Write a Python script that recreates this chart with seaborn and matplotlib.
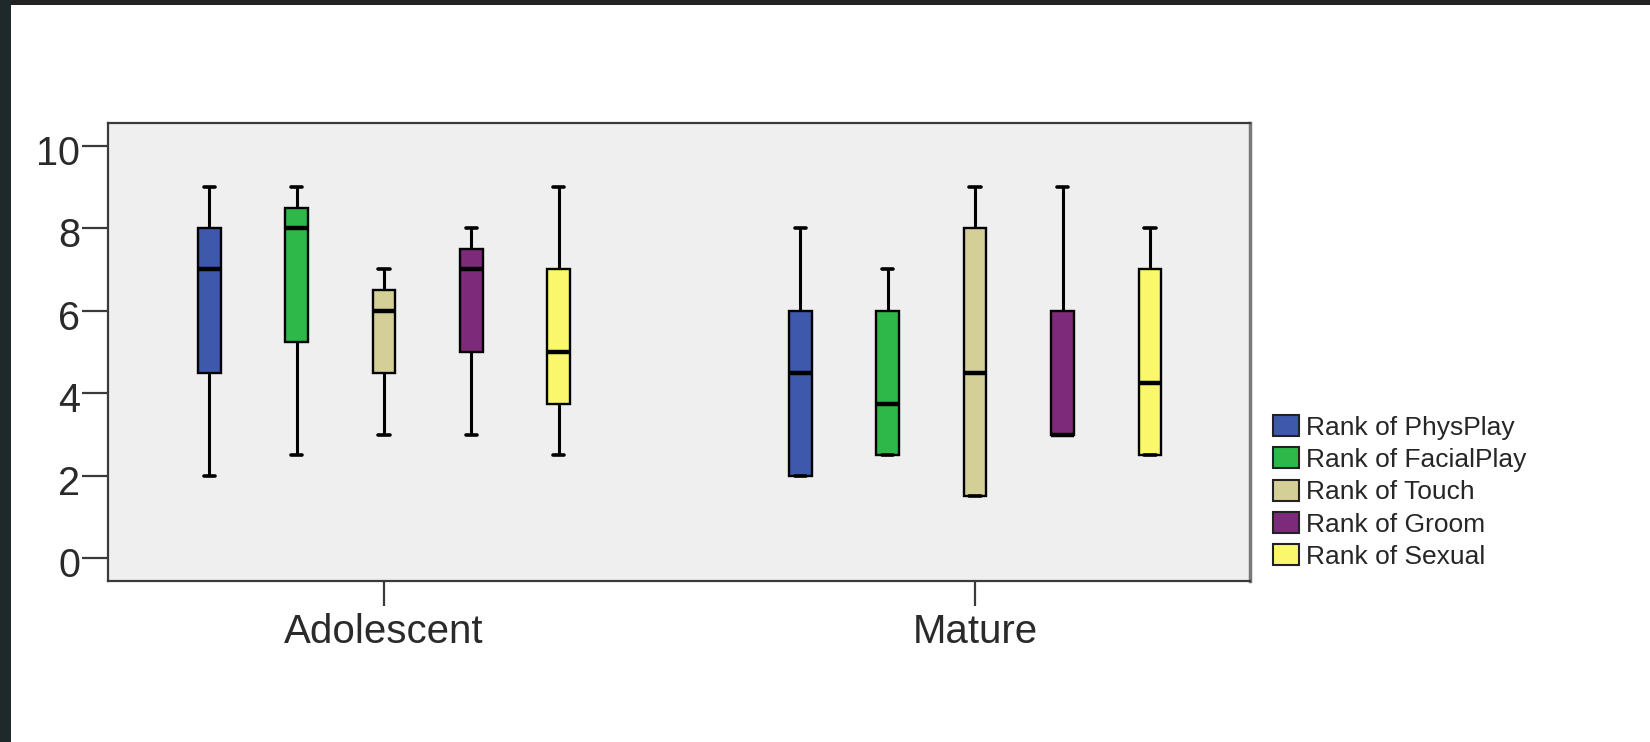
import numpy as np
import pandas as pd
import matplotlib
matplotlib.use("Agg")
import matplotlib.pyplot as plt
from matplotlib.patches import Patch, Rectangle
from matplotlib.transforms import ScaledTranslation
import seaborn as sns

# ---------------- data (five-number summaries) ----------------
groups = ["Adolescent", "Mature"]
measures = ["Rank of PhysPlay", "Rank of FacialPlay", "Rank of Touch",
            "Rank of Groom", "Rank of Sexual"]
colors = ["#3e58ac", "#2fb84a", "#d4cf96", "#7e2a7a", "#fbf76c"]

adol_min = [2.0, 2.5, 3.0, 3.0, 2.5]
adol_q1 = [4.5, 5.25, 4.5, 5.0, 3.75]
adol_med = [7.0, 8.0, 6.0, 7.0, 5.0]
adol_q3 = [8.0, 8.5, 6.5, 7.5, 7.0]
adol_max = [9.0, 9.0, 7.0, 8.0, 9.0]

mat_min = [2.0, 2.5, 1.5, 3.0, 2.5]
mat_q1 = [2.0, 2.5, 1.5, 3.0, 2.5]
mat_med = [4.5, 3.75, 4.5, 3.0, 4.25]
mat_q3 = [6.0, 6.0, 8.0, 6.0, 7.0]
mat_max = [8.0, 7.0, 9.0, 9.0, 8.0]

yticks = [0, 2, 4, 6, 8, 10]

# long-form table: each box is given by its five-number summary
rows = []
for g, arrs in zip(groups, [(adol_min, adol_q1, adol_med, adol_q3, adol_max),
                            (mat_min, mat_q1, mat_med, mat_q3, mat_max)]):
    for i, m in enumerate(measures):
        for a in arrs:
            rows.append({"group": g, "measure": m, "value": a[i]})
df = pd.DataFrame(rows)

# ---------------- figure ----------------
sns.set_style("white")
plt.rcParams["font.family"] = ["Liberation Sans", "DejaVu Sans"]

W, H, DPI = 1650, 742, 100
fig = plt.figure(figsize=(W / DPI, H / DPI), dpi=DPI, facecolor="white")
ax = fig.add_axes([108 / W, 1 - 581 / H, (1250 - 108) / W, (581 - 123) / H])
ax.set_facecolor("#efefef")

sns.boxplot(data=df, x="group", y="value", hue="measure",
            order=groups, hue_order=measures, palette=colors,
            width=0.739, gap=0.74, whis=np.inf, saturation=1,
            linecolor="black", linewidth=1.7, legend=False,
            medianprops=dict(linewidth=3.2, color="black"),
            whiskerprops=dict(linewidth=2.2, color="black"),
            capprops=dict(linewidth=2.6, color="black"),
            ax=ax)

ax.set_xlim(-0.467, 1.465)
ax.set_ylim(-0.55, 10.55)
ax.set_yticks(yticks)
ax.set_yticklabels([str(t) for t in yticks])
ax.set_xlabel("")
ax.set_ylabel("")

for s in ax.spines.values():
    s.set_visible(True)
    s.set_color("#3a3a3a")
    s.set_linewidth(1.6)
ax.spines["right"].set_color("#7a7a7a")
ax.spines["right"].set_linewidth(2.5)

ax.tick_params(axis="y", direction="out", length=19, width=1.6, color="#3a3a3a",
               pad=1, labelsize=28.5, labelcolor="#2a2a2a", left=True)
ax.tick_params(axis="x", direction="out", length=18, width=1.6, color="#3a3a3a",
               pad=5, labelsize=29, labelcolor="#2a2a2a", bottom=True)

shift = ScaledTranslation(0, -3 / 72, fig.dpi_scale_trans)
for lab in ax.get_yticklabels():
    lab.set_transform(lab.get_transform() + shift)

handles = [Patch(facecolor=c, edgecolor="#222222", linewidth=1.5) for c in colors]
fig.legend(handles, measures, loc="upper left",
           bbox_to_anchor=(1273 / W, 1 - 415 / H), frameon=False,
           fontsize=19, handlelength=1.0, handleheight=0.85,
           handletextpad=0.25, labelspacing=0.29, borderaxespad=0, borderpad=0)

# dark screenshot frame (top and left edges)
fig.patches.append(Rectangle((0, 1 - 5 / H), 1, 5 / H, transform=fig.transFigure,
                             facecolor="#222222", edgecolor="none", zorder=10))
fig.patches.append(Rectangle((0, 0), 11 / W, 1, transform=fig.transFigure,
                             facecolor="#1f2929", edgecolor="none", zorder=10))

fig.savefig("out.png", dpi=DPI, facecolor="white")
